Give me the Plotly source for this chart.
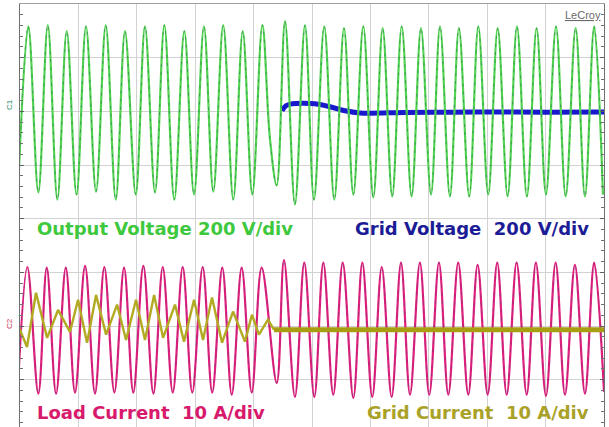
import plotly.graph_objects as go

# ---- data (time in ms, 50 ms/div, trigger at centre) ----
# Output voltage (V), extrema of each half cycle
ov_t = [-251.7, -242.9, -234.3, -226.2, -218.0, -210.0, -201.6, -193.5, -184.9, -176.6,
        -168.0, -160.1, -150.9, -143.0, -134.4, -126.4, -117.9, -109.3, -101.0, -92.5,
        -84.5, -76.0, -67.4, -59.3, -51.1, -42.5, -36.0, -30.2, -23.1, -14.6,
        -6.0, 1.7, 10.5, 19.1, 27.4, 35.4, 43.9, 52.5, 60.5, 68.7,
        76.8, 85.3, 93.3, 101.9, 109.6, 118.1, 125.8, 134.6, 142.4, 150.9,
        159.0, 167.5, 175.5, 184.0, 192.3, 200.3, 208.9, 217.2, 225.7, 233.7,
        241.6, 249.1]
ov_v = [-305, 317, -302, 321, -329, 299, -310, 317, -299, 321,
        -329, 299, -310, 317, -302, 321, -329, 299, -310, 317,
        -299, 321, -329, 299, -310, 321, -103, -276, 336, -347,
        321, -329, 317, -329, 310, -310, 317, -321, 310, -317,
        317, -317, 310, -310, 317, -317, 310, -317, 317, -310,
        310, -317, 317, -317, 310, -310, 317, -317, 310, -317,
        317, -310]

# Grid voltage (V) after disconnection
gv_t = [-25.7, -22.3, -17.1, -8.0, 2.6, 15.4, 28.2, 41.1, 80.0, 120.0, 160.0, 200.0, 250.0]
gv_v = [2, 21, 28, 30, 28, 17, 2, -6, -4, -3, -2, -3, -2]

# Load current (A)
lc_t = [-252.0, -243.7, -234.3, -227.1, -219.1, -210.8, -202.9, -194.3, -185.8, -177.8,
        -169.2, -160.9, -153.0, -144.4, -135.8, -127.8, -119.2, -110.7, -102.5, -93.6,
        -85.4, -76.8, -68.7, -60.2, -51.6, -43.1, -30.2, -24.0, -14.6, -6.6,
        2.0, 9.7, 18.2, 26.3, 35.4, 43.1, 51.6, 59.7, 68.2, 76.2,
        83.9, 92.4, 100.4, 108.7, 116.7, 125.2, 133.8, 141.8, 150.4, 158.6,
        166.7, 175.2, 183.8, 191.7, 200.3, 208.6, 216.6, 225.1, 233.7, 241.6,
        250.0]
lc_i = [-11.7, 11.7, -11.9, 11.6, -11.9, 11.6, -11.7, 11.9, -11.9, 11.7,
        -11.7, 11.6, -11.7, 11.9, -11.9, 11.7, -11.7, 11.7, -11.7, 11.7,
        -11.7, 11.6, -12.1, 11.6, -11.7, 11.6, -9.9, 13.0, -12.5, 12.5,
        -12.5, 12.5, -12.1, 12.5, -12.7, 12.5, -12.5, 11.7, -12.5, 12.5,
        -12.1, 12.5, -12.1, 12.5, -12.1, 12.5, -12.1, 12.1, -12.1, 12.5,
        -12.1, 12.5, -12.1, 12.5, -12.3, 12.5, -12.1, 12.1, -11.9, 12.5,
        -11.6]

# Grid current (A) before and after disconnection
gc_t = [-251.7, -244.0, -236.3, -231.1, -226.8, -217.4, -207.2, -200.3, -192.6, -184.9,
        -176.3, -166.9, -159.2, -150.7, -143.0, -135.2, -127.5, -117.3, -109.6, -101.0,
        -93.3, -85.6, -77.0, -67.6, -57.4, -51.4, -45.4, -37.7, -32.5]
gc_i = [0.9, -3.2, 6.9, 2.2, -1.5, 3.7, -0.4, 5.6, -2.4, 6.5,
        -0.9, 4.7, -1.9, 5.6, -1.9, 6.5, -1.5, 4.7, -2.2, 5.6,
        -1.9, 6.0, -2.4, 3.4, -2.2, 2.8, -0.9, 1.9, 0.0]
gc2_t = [-32.5, 0.0, 100.0, 250.0]
gc2_i = [0.0, 0.0, 0.0, 0.0]

labels = ["Output Voltage 200 V/div", "Grid Voltage&nbsp;&nbsp;200 V/div",
          "Load Current&nbsp;&nbsp;10 A/div", "Grid Current&nbsp;&nbsp;10 A/div"]

# ---- scope screen geometry: 10 x 8 divisions ----
V_DIV, V_OFF = 200.0, 2.0      # voltage channels, offset in div
I_DIV, I_OFF = 10.0, -2.07     # current channels
Y_LO, Y_HI = -3.881, 4.0       # visible screen, in div

v_range = [(Y_LO - V_OFF) * V_DIV, (Y_HI - V_OFF) * V_DIV]
i_range = [(Y_LO - I_OFF) * I_DIV, (Y_HI - I_OFF) * I_DIV]

GREEN, BLUE, MAGENTA, OLIVE = "#52d452", "#1818cc", "#e01e7c", "#b2aa22"

fig = go.Figure()
fig.add_trace(go.Scatter(x=gv_t, y=gv_v, mode="lines", yaxis="y",
                         line=dict(color=BLUE, width=5, shape="spline")))
fig.add_trace(go.Scatter(x=ov_t, y=ov_v, mode="lines", yaxis="y",
                         line=dict(color=GREEN, width=2.2, shape="spline")))
fig.add_trace(go.Scatter(x=ov_t, y=ov_v, mode="lines", yaxis="y", opacity=0.55,
                         line=dict(color="#2e6e4e", width=1, shape="spline", dash="3px,5px")))
fig.add_trace(go.Scatter(x=lc_t, y=lc_i, mode="lines", yaxis="y2",
                         line=dict(color=MAGENTA, width=2.2, shape="spline")))
fig.add_trace(go.Scatter(x=lc_t, y=lc_i, mode="lines", yaxis="y2", opacity=0.5,
                         line=dict(color="#6a3a7a", width=1, shape="spline", dash="3px,5px")))
fig.add_trace(go.Scatter(x=gc_t, y=gc_i, mode="lines", yaxis="y2",
                         line=dict(color=OLIVE, width=2.4)))
fig.add_trace(go.Scatter(x=gc2_t, y=gc2_i, mode="lines", yaxis="y2",
                         line=dict(color="#a89e14", width=5)))

fig.update_layout(
    width=609, height=427,
    margin=dict(l=20, r=5, t=4, b=0),
    paper_bgcolor="white", plot_bgcolor="white",
    showlegend=False,
    xaxis=dict(range=[-250, 250], dtick=50, tick0=0, showticklabels=False,
               showgrid=True, gridcolor="#d2d2d2", gridwidth=1, zeroline=False,
               showline=True, mirror=True, linecolor="#a0a0a0", linewidth=1,
               ticks="", fixedrange=True),
    yaxis=dict(range=v_range, dtick=V_DIV, tick0=0, showticklabels=False,
               showgrid=True, gridcolor="#d2d2d2", gridwidth=1, zeroline=False,
               showline=True, mirror="allticks", linecolor="#707070", linewidth=1,
               ticks="inside", ticklen=4, tickcolor="#606060", fixedrange=True,
               minor=dict(dtick=V_DIV / 5, ticks="inside", ticklen=3,
                          tickcolor="#707070", showgrid=False)),
    yaxis2=dict(range=i_range, overlaying="y", showticklabels=False, showgrid=False,
                zeroline=False, showline=False, ticks="", fixedrange=True),
)

PH = 423.0
def py(ypx):
    return (427 - ypx) / PH
def px(xpx):
    return (xpx - 20) / 584.0

font_txt = "DejaVu Sans"
fig.add_annotation(text="<b>%s</b>" % labels[0], xref="paper", yref="paper",
                   x=px(35), y=py(228), xanchor="left", yanchor="middle", showarrow=False,
                   font=dict(family=font_txt, size=18, color="#3ec83e"))
fig.add_annotation(text="<b>%s</b>" % labels[1], xref="paper", yref="paper",
                   x=px(591), y=py(228), xanchor="right", yanchor="middle", showarrow=False,
                   font=dict(family=font_txt, size=18, color="#1c1c96"))
fig.add_annotation(text="<b>%s</b>" % labels[2], xref="paper", yref="paper",
                   x=px(35), y=py(412), xanchor="left", yanchor="middle", showarrow=False,
                   font=dict(family=font_txt, size=18, color="#d81a6c"))
fig.add_annotation(text="<b>%s</b>" % labels[3], xref="paper", yref="paper",
                   x=px(591), y=py(412), xanchor="right", yanchor="middle", showarrow=False,
                   font=dict(family=font_txt, size=18, color="#aaa228"))
fig.add_annotation(text="LeCroy", xref="paper", yref="paper",
                   x=px(603), y=py(15), xanchor="right", yanchor="middle", showarrow=False,
                   font=dict(family="Liberation Sans", size=11, color="#6a6a6a",
                             lineposition="under"))
fig.add_annotation(text="C1", xref="paper", yref="paper", textangle=-90,
                   x=px(9), y=py(105), xanchor="center", yanchor="middle", showarrow=False,
                   font=dict(family="Liberation Sans", size=8, color="#2a8a6a"))
fig.add_annotation(text="C2", xref="paper", yref="paper", textangle=-90,
                   x=px(9), y=py(324), xanchor="center", yanchor="middle", showarrow=False,
                   font=dict(family="Liberation Sans", size=8, color="#c83050"))

fig.write_html("out.html", config={"displayModeBar": False},
               post_script="document.body.style.margin='0';document.body.style.padding='0';")
